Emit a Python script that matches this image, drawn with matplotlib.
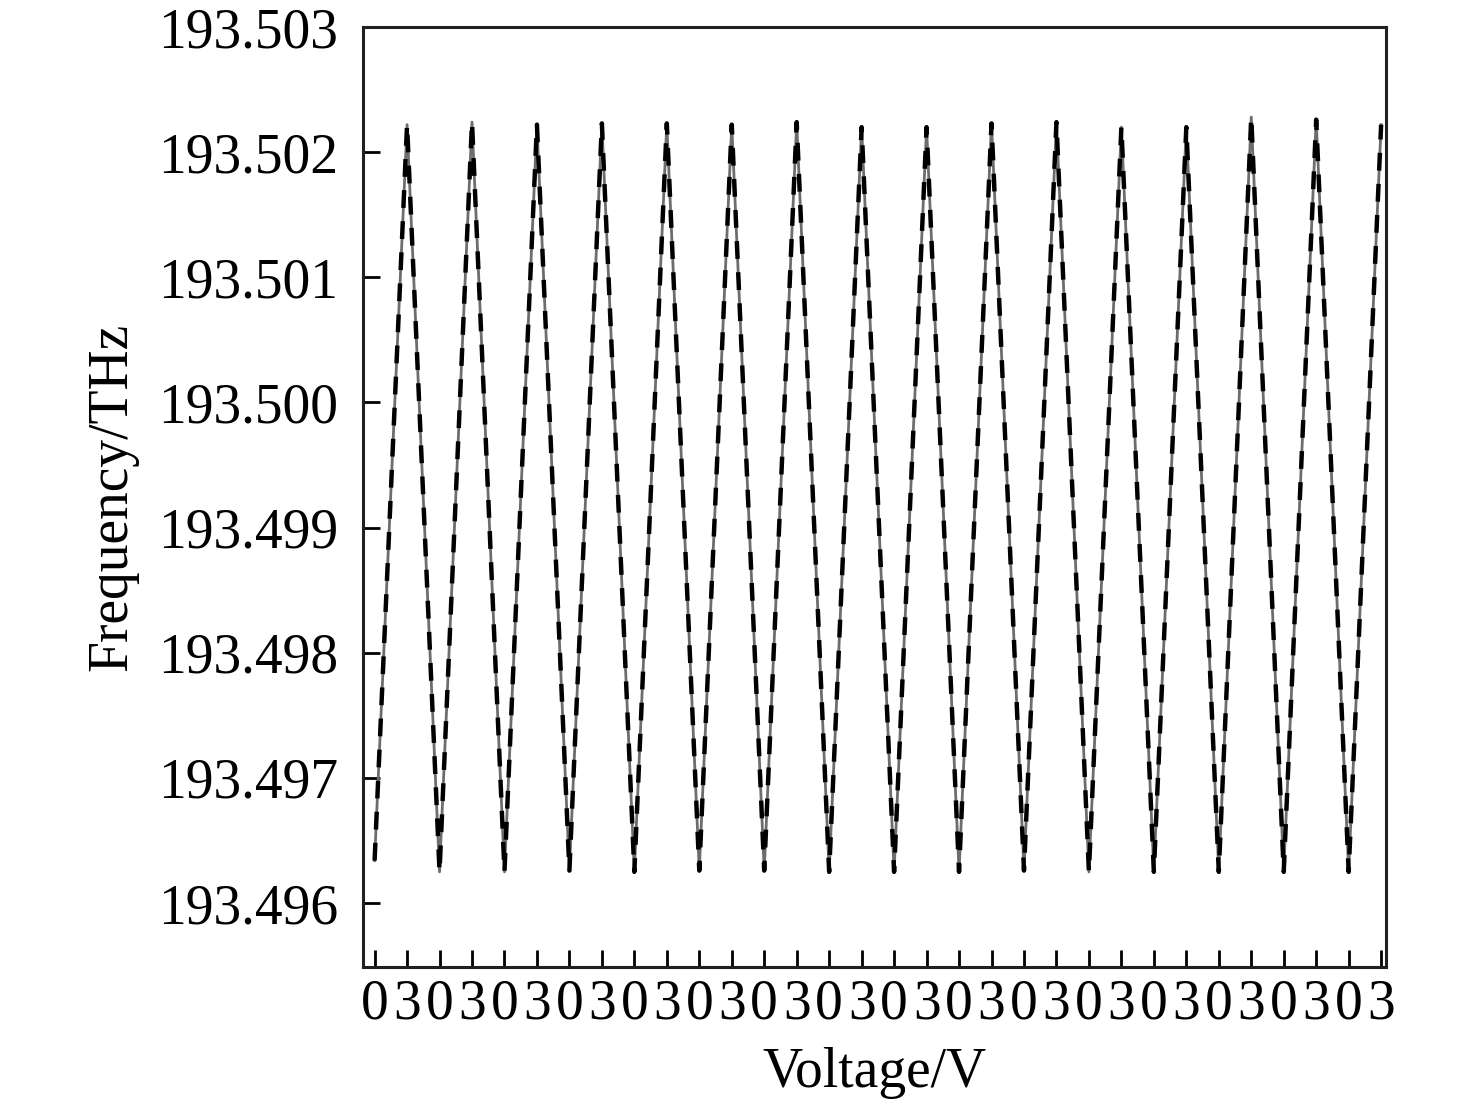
import numpy as np
import matplotlib
matplotlib.use("Agg")
import matplotlib.pyplot as plt

# voltage sweep turning points (0 V -> 3 V -> 0 V ...), 32 points
volt_labels = ["0", "3"] * 16
# frequency at each turning point, THz (troughs at 0 V, peaks at 3 V)
trough = [193.49634, 193.49625, 193.49625, 193.49626, 193.49625, 193.49626, 193.49626, 193.49625,
          193.49625, 193.49625, 193.49626, 193.49625, 193.49625, 193.49625, 193.49625, 193.49625]
peak = [193.50222, 193.50224, 193.50222, 193.50223, 193.50223, 193.50222, 193.50224, 193.50220,
        193.50220, 193.50223, 193.50224, 193.50220, 193.50220, 193.50228, 193.50226, 193.50222]

freq = []
for t, p in zip(trough, peak):
    freq.append(t)
    freq.append(p)
freq = np.array(freq)
x = np.arange(len(freq))

plt.rcParams['font.family'] = ['Liberation Serif', 'DejaVu Serif']
plt.rcParams['font.size'] = 40

fig = plt.figure(figsize=(14.76, 11.08), dpi=100)
ax = fig.add_axes([363/1476, 1-967/1108, (1386-363)/1476, (967-27)/1108])

ax.plot(x, freq, color='#6d6d6d', lw=2.0)
ax.plot(x, freq, color='black', lw=3.2, ls=(0, (4, 3)))

ax.set_xlim(-0.357, 31.15)
ax.set_ylim(193.49549, 193.503)
ax.set_xticks(x)
ax.set_xticklabels(volt_labels)
yt = [193.496, 193.497, 193.498, 193.499, 193.500, 193.501, 193.502, 193.503]
ax.set_yticks(yt)
ax.set_yticklabels(["%.3f" % v for v in yt])

ax.tick_params(direction='in', length=12, width=2, top=False, right=False)
ax.tick_params(axis='x', pad=8)
ax.tick_params(axis='y', pad=18)
for s in ax.spines.values():
    s.set_linewidth(2.2)
    s.set_color('#231f20')

ax.set_xlabel("Voltage/V", labelpad=12)
ax.set_ylabel("Frequency/THz", labelpad=14)

fig.savefig("out.png", dpi=100)
